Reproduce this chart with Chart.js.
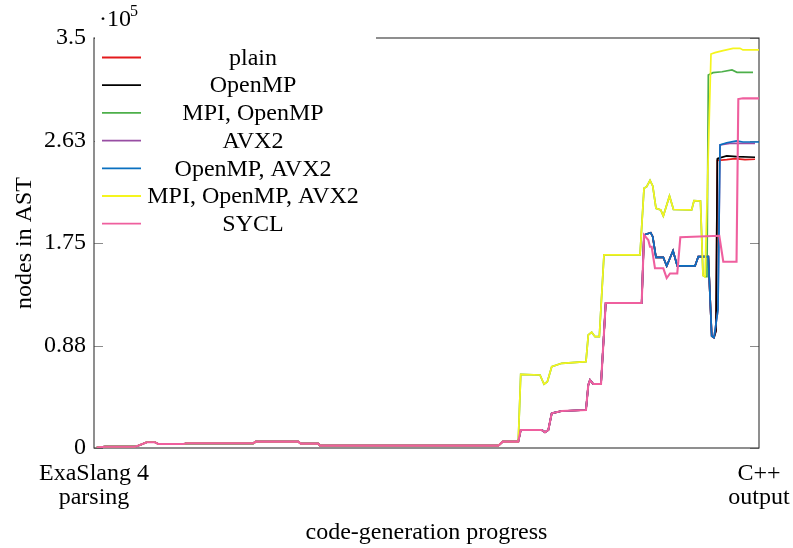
<!DOCTYPE html>
<html>
<head>
<meta charset="utf-8">
<script src="https://cdn.jsdelivr.net/npm/chart.js@4"></script>
<style>
  html, body { margin: 0; padding: 0; background: #fff; }
  #wrap { width: 793px; height: 548px; }
</style>
</head>
<body>
<div id="wrap"><canvas id="ast-chart" width="793" height="548"></canvas></div>
<script>
// progress (0..100) vs nodes in AST (x 10^5)

const seriesNames = ['plain', 'OpenMP', 'MPI, OpenMP', 'AVX2', 'OpenMP, AVX2', 'MPI, OpenMP, AVX2', 'SYCL'];
const seriesColors = ['#e41a1c', '#000000', '#4daf4a', '#984ea3', '#0a70c0', '#f5f51e', '#ef5f9e'];

const yTicks = [0, 0.875, 1.75, 2.625, 3.5];
const yTickLabels = ['0', '0.88', '1.75', '2.63', '3.5'];
const xTicks = [0, 100];
const xTickLabels = [['ExaSlang 4', 'parsing'], ['C++', 'output']];

// shared by every variant
const baseline = [
  [0.41, 0.003], [1.65, 0.011], [6.17, 0.011], [6.92, 0.026], [7.92, 0.049], [9.17, 0.049],
  [9.67, 0.034], [13.43, 0.034], [13.94, 0.040], [23.95, 0.040], [24.32, 0.054], [30.72, 0.054],
  [31.08, 0.037], [33.73, 0.037], [33.98, 0.020], [60.80, 0.020], [61.46, 0.054], [63.80, 0.054]
];

// variants without MPI, up to the 1.82 peak
const noMpiSteps = [
  [64.17, 0.154], [67.32, 0.154], [67.82, 0.134], [68.32, 0.154], [68.83, 0.296], [70.33, 0.316],
  [73.98, 0.324], [74.33, 0.538], [74.59, 0.580], [75.08, 0.546], [76.24, 0.546], [76.95, 1.238],
  [82.36, 1.238], [82.71, 1.818]
];

// OpenMP / AVX2 middle part
const ompMiddle = [
  [83.11, 1.827], [83.71, 1.838], [84.02, 1.804], [84.51, 1.628], [85.61, 1.628], [86.12, 1.554],
  [87.07, 1.684], [87.71, 1.554], [90.38, 1.554], [90.87, 1.633], [92.38, 1.633], [92.89, 0.956],
  [93.23, 0.943]
];

// MPI variants, middle part
const mpiSteps = [
  [64.17, 0.629], [67.07, 0.623], [67.67, 0.544], [68.17, 0.566], [68.83, 0.694], [70.33, 0.723],
  [73.98, 0.737], [74.33, 0.965], [74.84, 0.988], [75.34, 0.950], [75.99, 0.950], [76.69, 1.648],
  [82.11, 1.648], [82.71, 2.217], [83.11, 2.231], [83.61, 2.284], [84.02, 2.237], [84.51, 2.046],
  [85.22, 2.032], [85.61, 1.981], [86.54, 2.151], [87.14, 2.036], [89.87, 2.032], [90.23, 2.111],
  [91.20, 2.109], [91.58, 1.473], [91.88, 1.462]
];

const plainEnd = [[93.53, 1.00], [93.73, 2.455], [95.14, 2.462], [96.39, 2.470], [97.89, 2.462], [99.40, 2.465]];
const openmpEnd = [[93.53, 1.00], [93.73, 2.467], [93.83, 2.473], [95.14, 2.493], [96.65, 2.487], [99.40, 2.482]];
const mpiOpenmpEnd = [[92.18, 1.462], [92.38, 3.184], [93.08, 3.204], [94.44, 3.212], [95.94, 3.227], [96.69, 3.207], [99.10, 3.207]];
const avx2End = [[93.83, 1.178], [94.14, 2.587], [95.60, 2.601], [99.40, 2.601]];
const openmpAvx2End = [[93.83, 1.178], [94.14, 2.587], [95.14, 2.606], [96.65, 2.621], [97.59, 2.612], [100, 2.612]];
const mpiOpenmpAvx2End = [[92.78, 3.363], [93.38, 3.375], [94.59, 3.392], [96.09, 3.412], [97.14, 3.412], [97.59, 3.398], [100, 3.398]];
const syclEnd = [
  [83.35, 1.776], [83.61, 1.718], [83.86, 1.718], [84.36, 1.534], [85.61, 1.534], [86.12, 1.451],
  [86.62, 1.490], [87.71, 1.490], [88.17, 1.799], [94.03, 1.812], [94.63, 1.590], [96.62, 1.590],
  [96.89, 2.979], [97.59, 2.985], [100, 2.985]
];

const seriesPoints = [
  [...baseline, ...noMpiSteps, ...ompMiddle, ...plainEnd],
  [...baseline, ...noMpiSteps, ...ompMiddle, ...openmpEnd],
  [...baseline, ...mpiSteps, ...mpiOpenmpEnd],
  [...baseline, ...noMpiSteps, ...ompMiddle, ...avx2End],
  [...baseline, ...noMpiSteps, ...ompMiddle, ...openmpAvx2End],
  [...baseline, ...mpiSteps, ...mpiOpenmpAvx2End],
  [...baseline, ...noMpiSteps, ...syclEnd]
];

const serif = "'Liberation Serif', 'Times New Roman', serif";
const FS = 24;

// axis frame with inward ticks (pgfplots look), drawn under the lines
const framePlugin = {
  id: 'frame',
  beforeDatasetsDraw(chart) {
    const { ctx, chartArea: a, scales } = chart;
    ctx.save();
    ctx.strokeStyle = '#8c8c8c';
    ctx.lineWidth = 1;
    yTicks.forEach(v => {
      const y = Math.round(scales.y.getPixelForValue(v)) + 0.5;
      ctx.beginPath();
      ctx.moveTo(a.left, y); ctx.lineTo(a.left + 9, y);
      ctx.moveTo(a.right, y); ctx.lineTo(a.right - 9, y);
      ctx.stroke();
    });
    ctx.strokeStyle = '#333';
    ctx.lineWidth = 1.1;
    ctx.strokeRect(a.left, a.top, a.right - a.left, a.bottom - a.top);
    ctx.restore();
  },
  afterDatasetsDraw(chart) {
    const { ctx, chartArea: a } = chart;
    ctx.save();
    // legend box, opaque, no border
    ctx.fillStyle = '#fff';
    ctx.fillRect(a.left + 1, a.top - 2, 281, 204);
    ctx.font = FS + 'px ' + serif;
    ctx.textAlign = 'center';
    ctx.textBaseline = 'middle';
    chart.data.datasets.forEach((ds, i) => {
      const y = a.top + 19.5 + i * 27.7;
      ctx.strokeStyle = ds.borderColor;
      ctx.lineWidth = 1.8;
      ctx.beginPath();
      ctx.moveTo(a.left + 8, y); ctx.lineTo(a.left + 47, y);
      ctx.stroke();
      ctx.fillStyle = '#000';
      ctx.fillText(ds.label, a.left + 159, y + 1);
    });
    // exponent marker above the y axis
    ctx.textAlign = 'left';
    ctx.textBaseline = 'alphabetic';
    ctx.fillText('\u00b710', a.left + 5, a.top - 12);
    ctx.font = '16px ' + serif;
    ctx.fillText('5', a.left + 36, a.top - 22);
    ctx.restore();
  }
};

new Chart(document.getElementById('ast-chart'), {
  type: 'line',
  data: {
    datasets: seriesNames.map((name, i) => ({
      label: name,
      data: seriesPoints[i].map(([x, y]) => ({ x, y })),
      borderColor: seriesColors[i],
      backgroundColor: seriesColors[i],
      borderWidth: name === 'SYCL' ? 2.1 : 1.7,
      pointRadius: 0,
      tension: 0,
      fill: false,
      order: seriesNames.length - i
    }))
  },
  options: {
    responsive: false,
    animation: false,
    devicePixelRatio: 1,
    layout: { padding: { top: 38, right: 34, left: 0, bottom: 0 } },
    plugins: {
      legend: { display: false },
      tooltip: { enabled: false }
    },
    scales: {
      x: {
        type: 'linear',
        min: 0,
        max: 100,
        afterBuildTicks: s => { s.ticks = xTicks.map(v => ({ value: v })); },
        afterFit: s => { s.height = 100; s.paddingLeft = 0; s.paddingRight = 0; },
        grid: { display: false, drawTicks: false },
        border: { display: false },
        ticks: {
          autoSkip: false,
          maxRotation: 0,
          padding: 14,
          color: '#000',
          font: { family: serif, size: FS, lineHeight: 1 },
          callback: (v) => xTickLabels[xTicks.indexOf(v)]
        },
        title: {
          display: true,
          text: 'code-generation progress',
          color: '#000',
          font: { family: serif, size: FS, lineHeight: 1.2 },
          padding: { top: 0, bottom: 1 }
        }
      },
      y: {
        min: 0,
        max: 3.5,
        afterBuildTicks: s => { s.ticks = yTicks.map(v => ({ value: v })); },
        afterFit: s => { s.width = 94; s.paddingTop = 0; s.paddingBottom = 0; },
        grid: { display: false, drawTicks: false },
        border: { display: false },
        ticks: {
          padding: 8,
          color: '#000',
          font: { family: serif, size: FS },
          callback: (v) => yTickLabels[yTicks.indexOf(v)]
        },
        title: {
          display: true,
          text: 'nodes in AST',
          color: '#000',
          font: { family: serif, size: FS, lineHeight: 1.2 },
          padding: { top: 10, bottom: 0 }
        }
      }
    }
  },
  plugins: [framePlugin]
});
</script>
</body>
</html>
